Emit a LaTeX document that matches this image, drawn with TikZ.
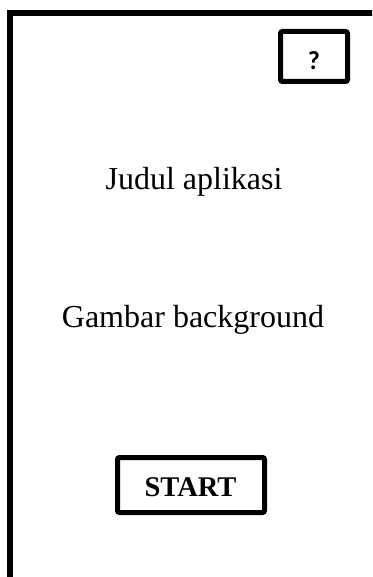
\documentclass[tikz,border=0pt]{standalone}
\usepackage{fontspec}
\setmainfont{Liberation Serif}
\newfontfamily\qfont{Carlito}
\begin{document}
\begin{tikzpicture}[x=1bp,y=-1bp,
  frame/.style={line width=5.5bp},
  btn/.style={draw, line width=5bp, rounded corners=2bp, inner sep=0pt},
  lbl/.style={font=\fontsize{32bp}{38bp}\selectfont, anchor=base, inner sep=0pt}]
\useasboundingbox (0,0) rectangle (372,577);
\clip (0,0) rectangle (372,577);
\coordinate (fbot) at (10,600);
\coordinate (fcorner) at (10,13);
\coordinate (fright) at (390,13);
\draw[frame] (fbot) -- (fcorner) -- (fright);
\node[btn, minimum width=67bp, minimum height=50bp] (helpbox) at (314,56.5) {};
\node[anchor=base, inner sep=0pt, font=\qfont\bfseries\fontsize{26bp}{30bp}\selectfont] (helptext) at (314,70) {?};
\node[lbl] (title) at (194,189) {Judul aplikasi};
\node[lbl] (bg) at (193,327) {Gambar background};
\node[btn, minimum width=147bp, minimum height=55bp] (startbox) at (191,485) {};
\node[lbl, font=\bfseries\fontsize{28.5bp}{34bp}\selectfont] (starttext) at (190.5,496) {START};
\end{tikzpicture}
\end{document}
